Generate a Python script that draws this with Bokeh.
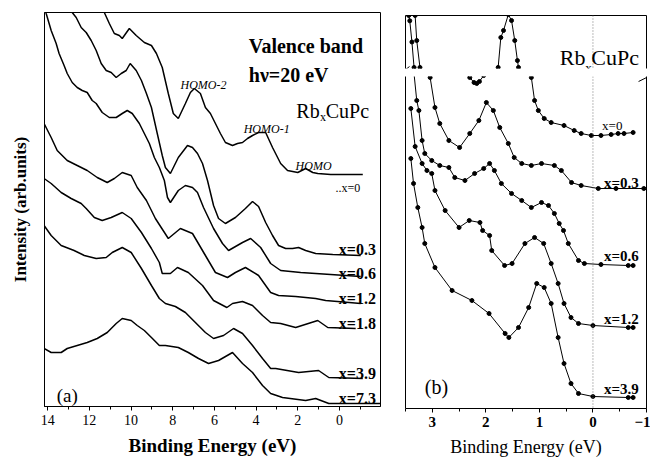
from bokeh.plotting import figure
from bokeh.models import Range1d, LinearAxis, FixedTicker, SingleIntervalTicker, Label, Span, Arrow
from bokeh.layouts import row, column
from bokeh.embed import file_html
from bokeh.resources import INLINE

SERIF = "Liberation Serif"

# ---------------- panel (a): valence band, hv=20 eV ----------------
a_x0_E = [11.45, 11.28, 11.04, 10.80, 10.56, 10.42, 10.08, 9.75, 9.36, 9.02, 8.78, 8.50, 8.21, 7.97, 7.73, 7.39, 7.15, 6.96, 6.67, 6.43,
          6.19, 5.95, 5.71, 5.47, 5.13, 4.89, 4.65, 4.41, 4.17, 3.88, 3.54, 3.21, 2.82, 2.49, 2.00, 1.62, 1.28, 1.04, 0.42, -0.30, -1.12]
a_x0_I = [412, 394, 383, 373, 371, 368, 378, 371, 364, 361, 353, 339, 313, 293, 288, 303, 314, 318, 313, 299,
          293, 283, 273, 264, 261, 263, 264, 268, 271, 274, 274, 259, 243, 236, 234, 238, 234, 233, 232, 232, 232]

a_x03_E = [12.95, 12.82, 12.63, 12.39, 12.15, 11.91, 11.67, 11.43, 11.19, 10.95, 10.71, 10.47, 10.23, 10.04, 9.75, 9.50, 9.26, 9.02, 8.88, 8.74,
           8.50, 8.35, 8.11, 7.73, 7.29, 7.05, 6.81, 6.57, 6.33, 6.04, 5.80, 5.47, 4.99, 4.51, 4.17, 3.88, 3.54, 3.21, 2.92, 2.58,
           2.25, 1.96, 1.62, 1.14, 0.32, -1.02]
a_x03_I = [402, 394, 389, 379, 374, 366, 356, 343, 336, 334, 329, 333, 336, 343, 336, 326, 313, 299, 286, 273,
           251, 239, 233, 249, 261, 259, 253, 243, 226, 201, 188, 183, 189, 198, 205, 200, 184, 171, 161, 158,
           158, 159, 156, 153, 152, 151]

a_x06_E = [14.15, 14.07, 13.83, 13.59, 13.45, 13.21, 13.06, 12.82, 12.58, 12.34, 12.10, 11.86, 11.67, 11.38, 11.04, 10.71, 10.42, 10.18, 9.94, 9.60,
           9.36, 9.12, 8.88, 8.64, 8.40, 8.25, 8.11, 7.73, 7.39, 7.05, 6.81, 6.52, 6.04, 5.61, 5.32, 4.65, 4.26, 3.78, 3.30, 2.82,
           1.86, 1.14, -1.02]
a_x06_I = [400, 393, 376, 363, 353, 341, 333, 324, 319, 316, 314, 306, 303, 294, 289, 289, 293, 296, 293, 283,
           273, 263, 249, 239, 226, 209, 204, 216, 221, 219, 214, 199, 178, 163, 156, 164, 168, 159, 143, 136,
           134, 133, 130]

a_x12_E = [14.17, 13.83, 13.54, 13.06, 12.58, 12.10, 11.62, 11.14, 10.80, 10.42, 9.99, 9.70, 9.26, 9.02, 8.83, 8.21, 7.63, 7.05, 6.43, 5.95,
           5.37, 4.99, 4.51, 3.88, 3.30, 2.92, 2.10, 1.14, 0.66, -1.02]
a_x12_I = [283, 269, 256, 246, 241, 236, 229, 224, 228, 234, 231, 219, 206, 196, 188, 168, 178, 173, 151, 134,
           129, 134, 139, 131, 114, 111, 110, 108, 106, 103]

a_x18_E = [14.17, 13.83, 13.35, 12.87, 12.39, 12.15, 11.76, 11.38, 10.95, 10.42, 9.99, 9.50, 9.02, 8.64, 8.50, 8.11, 7.77, 7.25, 6.57, 6.04,
           5.40, 5.13, 4.65, 4.17, 3.69, 3.30, 2.82, 2.10, 1.04, 0.56, -0.78]
a_x18_I = [228, 223, 214, 208, 203, 198, 189, 186, 189, 194, 188, 174, 158, 144, 133, 133, 139, 134, 121, 106,
           99, 103, 105, 101, 91, 84, 83, 79, 86, 79, 78]

a_x39_E = [14.17, 13.83, 13.35, 12.73, 12.24, 11.67, 11.19, 10.90, 10.42, 9.99, 9.50, 9.02, 8.64, 8.35, 7.87, 7.39, 6.91, 6.43, 6.04, 5.56,
           5.08, 4.65, 4.17, 3.69, 3.30, 3.06, 1.96, 1.00, 0.51, -1.12]
a_x39_I = [181, 171, 161, 156, 151, 148, 149, 154, 159, 154, 138, 121, 108, 103, 100, 94, 84, 74, 68, 71,
           78, 73, 61, 48, 38, 38, 34, 36, 29, 28]

a_x73_E = [14.17, 13.83, 13.35, 13.06, 12.58, 12.10, 11.62, 11.14, 10.71, 10.42, 9.99, 9.70, 9.36, 9.02, 8.64, 8.35, 7.73, 7.25, 6.76, 6.28,
           5.80, 5.13, 4.65, 4.17, 3.69, 3.30, 2.73, 1.62, 1.14, 0.51, -1.99]
a_x73_I = [58, 54, 54, 58, 61, 64, 68, 74, 83, 88, 86, 81, 76, 69, 61, 61, 59, 54, 48, 43,
           46, 54, 43, 34, 21, 13, 9, 6, 8, 3, 3]

a_curves = [(a_x0_E, a_x0_I), (a_x03_E, a_x03_I), (a_x06_E, a_x06_I), (a_x12_E, a_x12_I),
            (a_x18_E, a_x18_I), (a_x39_E, a_x39_I), (a_x73_E, a_x73_I)]
a_labels = ["x=0.3", "x=0.6", "x=1.2", "x=1.8", "x=3.9", "x=7.3"]
a_label_I = [157, 133, 108, 83, 33, 8]

# ---------------- panel (b): near Fermi level (broken intensity axis) ----------------
b_x0_E = [3.50, 3.44, 3.42, 3.38, 3.34, 3.20, 3.00, 2.80, 2.60, 2.30, 2.22, 2.17, 2.12, 2.04, 1.90, 1.77, 1.72, 1.67, 1.58, 1.52,
          1.46, 1.41, 1.39, 1.30, 1.15, 1.09, 1.02, 0.91, 0.78, 0.54, 0.35, 0.22, 0.03, -0.15, -0.34, -0.47, -0.58, -0.75]
b_x0_I = [1080, 1000, 960, 800, 608, 470, 400, 365, 345, 331, 326, 325, 327, 333, 450, 608, 834, 887, 1007, 962,
          811, 660, 608, 420, 331, 308, 298, 290, 286, 283, 278, 275, 273, 273, 274, 275, 275, 276]

b_x03_E = [3.36, 3.32, 3.29, 3.23, 3.12, 3.04, 2.95, 2.86, 2.69, 2.49, 2.30, 2.13, 1.99, 1.86, 1.74, 1.58, 1.47, 1.33, 1.15, 0.96,
           0.72, 0.59, 0.40, 0.22, -0.10, -0.43, -0.95]
b_x03_I = [1080, 1000, 811, 608, 420, 331, 301, 285, 268, 261, 275, 288, 306, 298, 281, 265, 251, 245, 243, 245,
           243, 238, 226, 223, 220, 220, 220]

b_x06_E = [3.36, 3.29, 3.25, 3.19, 3.14, 3.01, 2.86, 2.69, 2.58, 2.39, 2.21, 2.04, 1.93, 1.84, 1.71, 1.52, 1.33, 1.15, 0.96, 0.83,
           0.72, 0.63, 0.55, 0.46, 0.27, 0.16, -0.15, -0.66, -0.75]
b_x06_I = [345, 308, 298, 268, 255, 248, 243, 241, 231, 228, 235, 240, 245, 238, 225, 215, 208, 201, 206, 203,
           195, 185, 178, 165, 148, 145, 144, 143, 143]

b_x12_E = [3.40, 3.32, 3.19, 3.10, 3.01, 2.95, 2.76, 2.50, 2.31, 2.11, 2.06, 1.93, 1.89, 1.65, 1.51, 1.27, 1.09, 0.92, 0.78, 0.65,
           0.54, 0.41, 0.27, 0.00, -0.66, -0.75]
b_x12_I = [300, 262, 245, 238, 235, 218, 198, 181, 188, 186, 178, 173, 158, 143, 145, 165, 171, 165, 145, 125,
           105, 91, 85, 83, 81, 81]

b_x39_E = [3.40, 3.35, 3.27, 3.19, 3.14, 2.95, 2.63, 2.26, 1.94, 1.64, 1.57, 1.39, 1.20, 1.05, 0.91, 0.78, 0.65, 0.54, 0.41, 0.27,
           0.00, -0.66, -0.75]
b_x39_I = [250, 225, 201, 181, 165, 141, 118, 108, 95, 75, 71, 81, 101, 125, 121, 105, 71, 45, 25, 15,
           12, 11, 11]

b_curves = [(b_x0_E, b_x0_I), (b_x03_E, b_x03_I), (b_x06_E, b_x06_I), (b_x12_E, b_x12_I), (b_x39_E, b_x39_I)]
b_labels = ["x=0.3", "x=0.6", "x=1.2", "x=3.9"]
b_label_I = [226, 153, 90, 20]


def bare_axis(ax):
    ax.ticker = FixedTicker(ticks=[])
    ax.major_tick_out = 0
    ax.major_tick_in = 0
    ax.minor_tick_out = 0
    ax.minor_tick_in = 0
    ax.major_label_standoff = 0
    ax.axis_line_color = "black"
    ax.axis_line_width = 1


def style(p):
    p.xgrid.visible = False
    p.ygrid.visible = False
    p.background_fill_color = "white"
    p.border_fill_color = "white"


# ---------------- figure (a) ----------------
pa = figure(width=398, height=460, x_range=Range1d(14.15, -1.97), y_range=Range1d(0, 394),
            output_backend="svg", toolbar_location=None,
            min_border_left=44, min_border_right=18, min_border_top=12, min_border_bottom=54)
style(pa)
pa.outline_line_color = "black"
pa.outline_line_width = 1

ax = pa.xaxis[0]
ax.ticker = SingleIntervalTicker(interval=2, num_minor_ticks=2)
ax.major_tick_out = 4
ax.major_tick_in = 0
ax.minor_tick_out = 3
ax.minor_tick_in = 0
ax.major_label_standoff = 4
ax.major_label_text_font = SERIF
ax.major_label_text_font_size = "14px"
ax.major_label_text_color = "black"
ax.axis_line_color = "black"
ax.major_tick_line_color = "black"
ax.minor_tick_line_color = "black"
ax.axis_label = "Binding Energy (eV)"
ax.axis_label_text_font = SERIF
ax.axis_label_text_font_style = "bold"
ax.axis_label_text_font_size = "19px"
ax.axis_label_text_color = "black"
ax.axis_label_standoff = 7

ay = pa.yaxis[0]
bare_axis(ay)
ay.axis_label = "Intensity (arb.units)"
ay.axis_label_text_font = SERIF
ay.axis_label_text_font_style = "bold"
ay.axis_label_text_font_size = "17px"
ay.axis_label_text_color = "black"
ay.axis_label_standoff = 15

for E, I in a_curves:
    pa.line(E, I, line_color="black", line_width=1.5)


def lab(p, x, y, text, size, style_="normal", align="left"):
    p.add_layout(Label(x=x, y=y, text=text, text_font=SERIF, text_font_size=size,
                       text_font_style=style_, text_align=align, text_baseline="alphabetic",
                       text_color="black"))


lab(pa, 4.35, 361, "Valence band", "20px", "bold")
lab(pa, 4.35, 332, "hν=20 eV", "20px", "bold")
lab(pa, 0.95, 296, "Rb", "20px", "normal", "right")
lab(pa, 0.79, 290, "x", "12px", "normal", "center")
lab(pa, 0.66, 296, "CuPc", "20px", "normal", "left")
lab(pa, 6.52, 322, "HOMO-2", "12px", "italic", "center")
lab(pa, 3.49, 278, "HOMO-1", "12px", "italic", "center")
lab(pa, 1.24, 241, "HOMO", "12px", "italic", "center")
lab(pa, -0.40, 219, "..x=0", "12px", "normal", "center")
for t, yv in zip(a_labels, a_label_I):
    lab(pa, -1.75, yv, t, "16px", "bold", "right")
lab(pa, 13.56, 11, "(a)", "19px", "normal", "left")

# ---------------- figure (b): two stacked parts of a broken axis ----------------
xr_b = Range1d(3.5, -1.0)
pt = figure(width=252, height=76, x_range=xr_b, y_range=Range1d(600, 1000),
            x_axis_location="above", output_backend="svg", toolbar_location=None,
            min_border_left=7, min_border_right=4, min_border_top=15, min_border_bottom=8)
style(pt)
pt.outline_line_color = None
bare_axis(pt.xaxis[0])
bare_axis(pt.yaxis[0])
rt = LinearAxis()
bare_axis(rt)
pt.add_layout(rt, "right")

pb = figure(width=252, height=384, x_range=xr_b, y_range=Range1d(0, 332),
            output_backend="svg", toolbar_location=None,
            min_border_left=7, min_border_right=4, min_border_top=0, min_border_bottom=52)
style(pb)
pb.outline_line_color = None
bare_axis(pb.yaxis[0])
rb = LinearAxis()
bare_axis(rb)
pb.add_layout(rb, "right")

bx = pb.xaxis[0]
bx.ticker = SingleIntervalTicker(interval=1, num_minor_ticks=2)
bx.major_tick_out = 4
bx.major_tick_in = 0
bx.minor_tick_out = 3
bx.minor_tick_in = 0
bx.major_label_standoff = 4
bx.major_label_text_font = SERIF
bx.major_label_text_font_style = "bold"
bx.major_label_text_font_size = "15px"
bx.major_label_text_color = "black"
bx.axis_line_color = "black"
bx.axis_label = "Binding Energy (eV)"
bx.axis_label_text_font = SERIF
bx.axis_label_text_font_style = "normal"
bx.axis_label_text_font_size = "18px"
bx.axis_label_text_color = "black"
bx.axis_label_standoff = 7

for p in (pt, pb):
    p.add_layout(Span(location=0, dimension="height", line_color="#777777", line_dash="1 2", line_width=1))
    for E, I in b_curves:
        p.line(E, I, line_color="black", line_width=1)
        p.scatter(E, I, size=4, color="black")

# axis-break marks
pt.add_layout(Arrow(end=None, x_start=3.593, y_start=562, x_end=3.425, y_end=615,
                    line_color="black", line_width=1))
pb.add_layout(Arrow(end=None, x_start=-0.852, y_start=327, x_end=-1.04, y_end=332,
                    line_color="black", line_width=1))

lab(pb, -0.36, 283, "x=0", "13px", "normal", "center")
for t, yv in zip(b_labels, b_label_I):
    lab(pb, -0.53, yv, t, "15px", "bold", "center")
lab(pb, 3.14, 22, "(b)", "20px", "normal", "left")

lab(pt, 0.14, 683, "Rb", "22px", "normal", "right")
lab(pt, 0.085, 608, "x", "13px", "normal", "center")
lab(pt, 0.03, 683, "CuPc", "22px", "normal", "left")

layout = row(pa, column(pt, pb))
open("out.html", "w").write(file_html(layout, INLINE))
